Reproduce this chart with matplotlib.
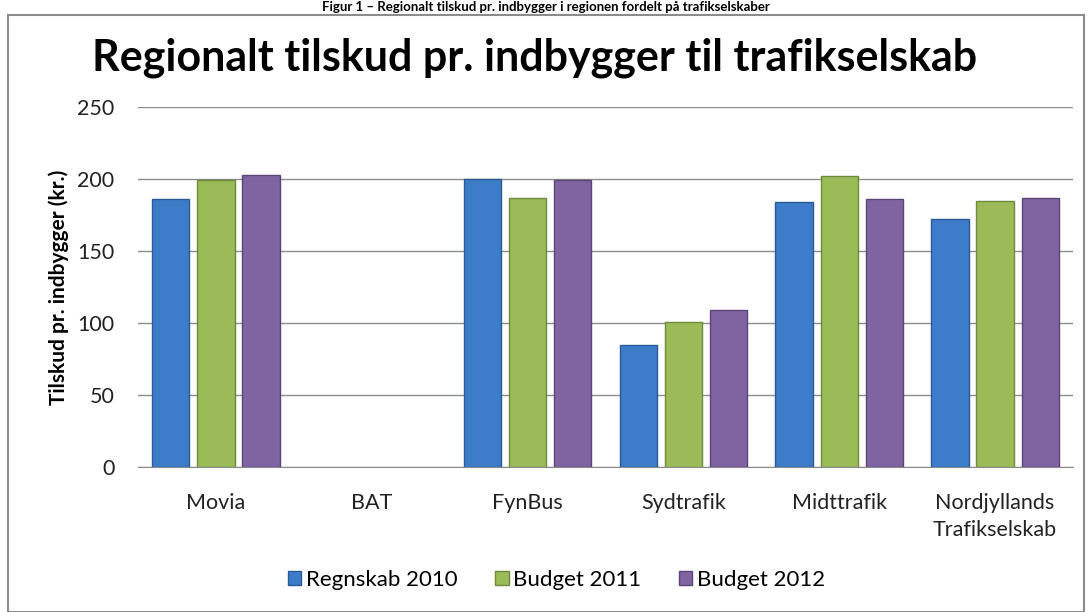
import numpy as np
import matplotlib.pyplot as plt
from matplotlib.patches import Rectangle

plt.rcParams['font.family'] = ['Lato', 'DejaVu Sans']

categories = ["Movia", "BAT", "FynBus", "Sydtrafik", "Midttrafik", "Nordjyllands\nTrafikselskab"]
series = ["Regnskab 2010", "Budget 2011", "Budget 2012"]
# BAT has no figures in the chart
regnskab_2010 = [186, np.nan, 200, 85, 184, 172]
budget_2011 = [199, np.nan, 187, 101, 202, 185]
budget_2012 = [203, np.nan, 199, 109, 186, 187]
colors = ["#3d7cc9", "#9bbb59", "#8064a2"]
edges = ["#2a5a94", "#6f8a3a", "#5b4577"]

fig = plt.figure(figsize=(10.91, 6.12), dpi=100)
ax = fig.add_axes([138 / 1091, 1 - 467 / 612, 935 / 1091, 360 / 612])

# outer chart border
fig.patches.append(Rectangle((8 / 1091, 0), 1076 / 1091, 1 - 15 / 612, transform=fig.transFigure,
                             fill=False, edgecolor="#8c8c8c", linewidth=1.5))

x = np.arange(len(categories))
step = 0.29
width = 0.24
for i, vals in enumerate([regnskab_2010, budget_2011, budget_2012]):
    ax.bar(x + (i - 1) * step, vals, width, color=colors[i], edgecolor=edges[i],
           linewidth=1, label=series[i], zorder=3)

ax.set_xlim(-0.5, len(categories) - 0.5)
ax.set_ylim(0, 250)
ax.set_yticks(range(0, 251, 50))
ax.yaxis.grid(True, color="#8c8c8c", linewidth=1)
ax.set_axisbelow(True)
for s in ["top", "right", "left"]:
    ax.spines[s].set_visible(False)
ax.spines["bottom"].set_color("#8c8c8c")
ax.tick_params(axis="both", length=0, labelsize=15.5, colors="#222222")
ax.tick_params(axis="y", pad=17)
ax.tick_params(axis="x", pad=19)
ax.set_xticks(x)
ax.set_xticklabels(categories, linespacing=1.4)
ax.set_ylabel("Tilskud pr. indbygger (kr.)", fontsize=15, fontweight="bold", labelpad=6)

fig.text(0.49, 0.905, "Regionalt tilskud pr. indbygger til trafikselskab", ha="center",
         va="center", fontsize=31, fontweight="bold")
fig.text(0.5, 0.998, "Figur 1 \u2013 Regionalt tilskud pr. indbygger i regionen fordelt på trafikselskaber",
         ha="center", va="top", fontsize=9.5, fontweight="bold")

fig.legend(loc="center", bbox_to_anchor=(0.51, 1 - 580 / 612), ncol=3, frameon=False,
           fontsize=16, handlelength=0.6, handleheight=0.6, handletextpad=0.2, columnspacing=1.7)

fig.savefig("out.png", dpi=100)
